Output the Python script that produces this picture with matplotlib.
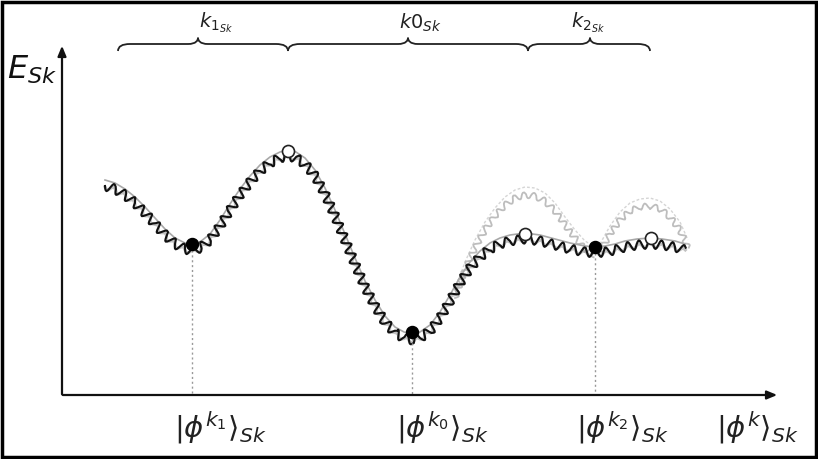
import numpy as np
import matplotlib
matplotlib.use("Agg")
import matplotlib.pyplot as plt
from matplotlib.path import Path
from matplotlib.patches import PathPatch, Rectangle

# ---- data (pixel-like schematic units, y grows downward) ----
curve_x = [105, 115, 125, 135, 145, 155, 165, 175, 185, 192, 200, 210, 220, 230, 240, 250,
           260, 270, 280, 288, 296, 305, 315, 325, 335, 345, 355, 365, 375, 385, 395, 404,
           412, 420, 430, 440, 450, 460, 470, 480, 490, 500, 510, 525, 540, 555, 570,
           585, 595, 605, 615, 625, 637, 650, 662, 675, 685]
curve_y = [180, 183, 189, 197, 207, 218, 229, 238, 243, 245, 242, 234, 220, 204, 189, 176,
           165, 157, 152, 150, 152, 158, 170, 188, 210, 234, 258, 281, 300, 316, 327, 332,
           334, 332, 325, 312, 295, 277, 262, 251, 243, 238, 235, 233, 235, 239, 243,
           246, 247, 246, 244, 241, 239, 238, 239, 241, 244]

hump1_x = [455, 465, 475, 485, 495, 505, 515, 525, 535, 545, 555, 565, 575, 585, 595]
hump1_y = [290, 262, 240, 222, 208, 197, 190, 187, 188, 193, 203, 217, 230, 241, 247]
hump2_x = [600, 610, 620, 630, 640, 650, 660, 670, 680, 688]
hump2_y = [244, 226, 212, 203, 199, 198, 201, 209, 222, 240]

minima_x = [192, 412, 595]
minima_y = [244, 332, 247]
maxima_x = [288, 525, 651]
maxima_y = [151, 234, 238]

ket_labels = [r'$|\phi^{k_1}\rangle_{Sk}$', r'$|\phi^{k_0}\rangle_{Sk}$',
              r'$|\phi^{k_2}\rangle_{Sk}$', r'$|\phi^{k}\rangle_{Sk}$']
ket_x = [220, 442, 622, 757]

brace_ranges = [(118, 288, 198), (288, 528, 408), (528, 650, 590)]
brace_labels = [r'$k_{1_{Sk}}$', r'$k0_{Sk}$', r'$k_{2_{Sk}}$']
brace_label_x = [216, 420, 588]

W, H = 818, 459
fig = plt.figure(figsize=(W / 100, H / 100), dpi=100)
ax = fig.add_axes([0, 0, 1, 1])
ax.set_xlim(0, W)
ax.set_ylim(H, 0)
ax.axis('off')
plt.rcParams['mathtext.fontset'] = 'dejavusans'

# frame
ax.add_patch(Rectangle((2, 2), W - 4, H - 4, fill=False, lw=2.5, ec='black'))

# axes arrows
ax.annotate('', xy=(62, 43), xytext=(62, 397),
            arrowprops=dict(arrowstyle='-|>,head_length=0.6,head_width=0.25', lw=1.6, color='#111111'))
ax.annotate('', xy=(780, 395), xytext=(60, 395),
            arrowprops=dict(arrowstyle='-|>,head_length=0.6,head_width=0.25', lw=1.6, color='#111111'))

cx = np.array(curve_x)
cy = np.array(curve_y)

# upper light humps
ax.plot(hump1_x, hump1_y, color='#d5d5d5', lw=1.0, ls=(0, (2, 1.5)))
ax.plot(hump2_x, hump2_y, color='#d5d5d5', lw=1.0, ls=(0, (2, 1.5)))
h1, = ax.plot(hump1_x, np.array(hump1_y) + 8, color='#bdbdbd', lw=1.3)
h1.set_sketch_params(scale=3, length=10, randomness=1.4)
h2, = ax.plot(hump2_x, np.array(hump2_y) + 8, color='#bdbdbd', lw=1.3)
h2.set_sketch_params(scale=3, length=10, randomness=1.4)

# grey shadow wiggle
g, = ax.plot(cx, cy + 7, color='#9a9a9a', lw=2.2, alpha=0.6)
g.set_sketch_params(scale=2, length=11, randomness=1)
# smooth grey curve
ax.plot(cx, cy, color='#a8a8a8', lw=1.2)
# black wiggly curve
b, = ax.plot(cx, cy + 6, color='#111111', lw=1.5)
b.set_sketch_params(scale=4.5, length=11, randomness=1)

# dotted verticals
for mx, my in zip(minima_x, minima_y):
    ax.plot([mx, mx], [my + 6, 394], color='#999999', lw=1.0, ls=(0, (1.5, 2)))

ax.scatter(minima_x, minima_y, s=75, color='black', zorder=5)
ax.scatter(maxima_x, maxima_y, s=75, facecolor='white', edgecolor='#222222', lw=1.2, zorder=5)

# labels
ax.text(7, 70, r'$E_{Sk}$', fontsize=23, ha='left', va='center', color='#111111')
for lab, x in zip(ket_labels, ket_x):
    ax.text(x, 428, lab, fontsize=21, ha='center', va='center', color='#222222')

# braces
def brace(x1, x2, xt, y=44, d=7):
    verts = [(x1, y + d), (x1, y), (x1 + 12, y),
             (xt - 10, y),
             (xt - 2, y), (xt, y - d * 0.5), (xt, y - d * 0.9),
             (xt, y - d * 0.5), (xt + 2, y), (xt + 10, y),
             (x2 - 12, y),
             (x2, y), (x2, y + d)]
    codes = [Path.MOVETO, Path.CURVE3, Path.CURVE3,
             Path.LINETO,
             Path.CURVE4, Path.CURVE4, Path.CURVE4,
             Path.CURVE4, Path.CURVE4, Path.CURVE4,
             Path.LINETO,
             Path.CURVE3, Path.CURVE3]
    ax.add_patch(PathPatch(Path(verts, codes), fill=False, lw=1.3, ec='#222222'))

for (x1, x2, xt) in brace_ranges:
    brace(x1, x2, xt)
for lab, x in zip(brace_labels, brace_label_x):
    ax.text(x, 23, lab, fontsize=14, ha='center', va='center', color='#222222')

fig.savefig('out.png', dpi=100)
